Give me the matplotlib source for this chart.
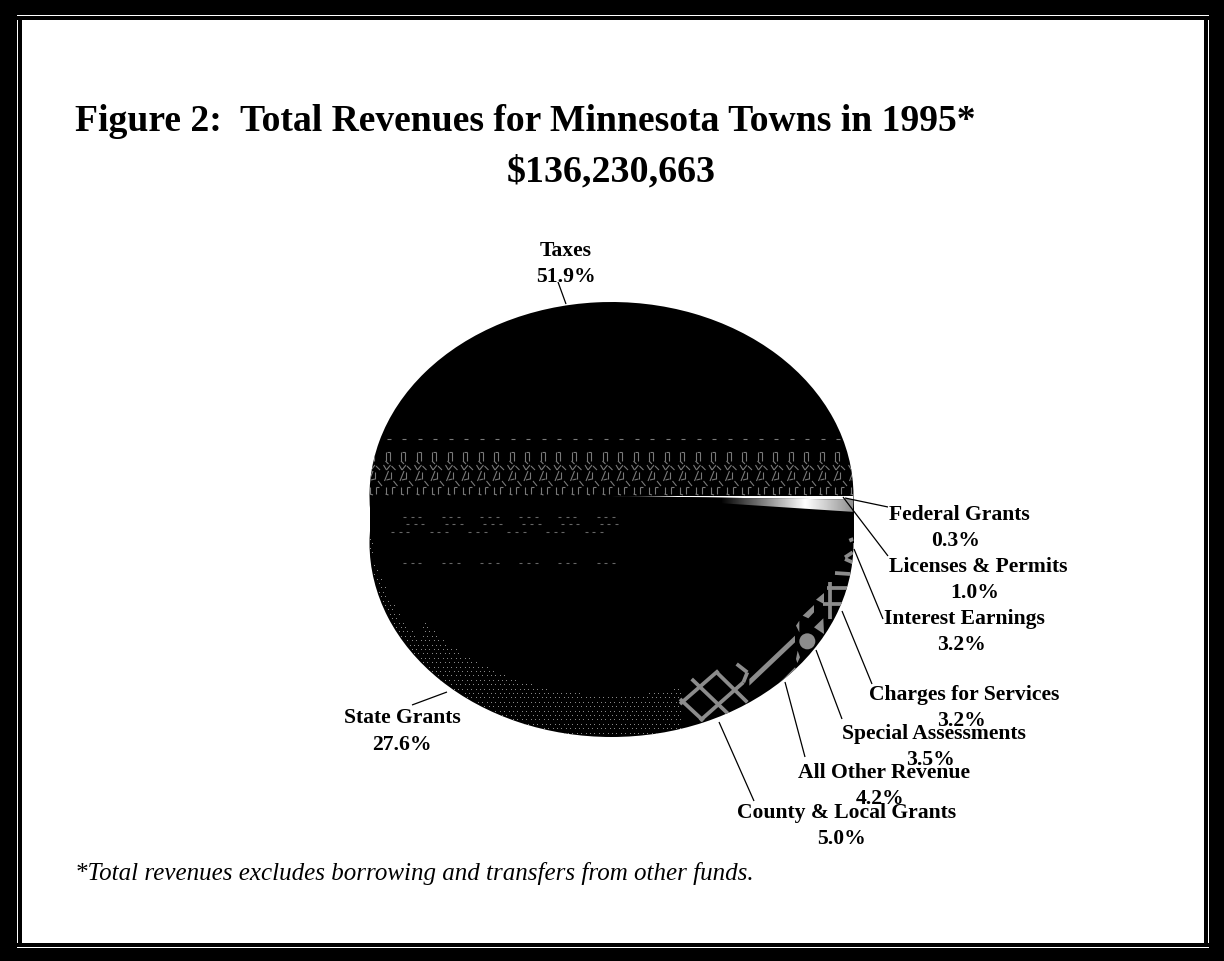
import numpy as np
import matplotlib
matplotlib.use("Agg")
import matplotlib.pyplot as plt
from matplotlib.patches import Rectangle, Circle, Polygon
from matplotlib.collections import LineCollection

plt.rcParams['font.family'] = ['Liberation Serif', 'DejaVu Serif']

W, H = 1224, 962

categories = ["Taxes", "State Grants", "County & Local Grants", "All Other Revenue",
              "Special Assessments", "Charges for Services", "Interest Earnings",
              "Licenses & Permits", "Federal Grants"]
shares = [51.9, 27.6, 5.0, 4.2, 3.5, 3.2, 3.2, 1.0, 0.3]
wedge_colors = ["black", "black", "black", "black", "black", "black", "black", "black", "white"]

title_lines = ["Figure 2:  Total Revenues for Minnesota Towns in 1995*", "$136,230,663"]
footnote = "*Total revenues excludes borrowing and transfers from other funds."

# label baselines and centres, in page pixels: (name x, name y, percent x, percent y)
label_xy = {
    "Taxes": (566, 256, 566, 282),
    "State Grants": (402, 723, 402, 750),
    "County & Local Grants": (847, 818, 842, 844),
    "All Other Revenue": (884, 778, 880, 804),
    "Special Assessments": (934, 739, 930, 765),
    "Charges for Services": (964, 700, 961, 726),
    "Interest Earnings": (964, 624, 961, 650),
    "Licenses & Permits": (978, 572, 975, 598),
    "Federal Grants": (959, 520, 956, 546),
}
leaders = {
    "Taxes": ((558, 283), (566, 305)), "State Grants": ((447, 693), (412, 706)),
    "County & Local Grants": ((719, 723), (754, 802)),
    "All Other Revenue": ((785, 683), (805, 758)),
    "Special Assessments": ((816, 651), (842, 720)),
    "Charges for Services": ((842, 612), (872, 685)),
    "Interest Earnings": ((854, 550), (883, 620)),
    "Licenses & Permits": ((843, 498), (888, 557)),
    "Federal Grants": ((845, 499), (888, 508)),
}

fig = plt.figure(figsize=(W / 100, H / 100), dpi=100, facecolor="white")

# pie body: the upper face is an ellipse, extruded downward by DEPTH pixels
CX, CY, RX, RY, DEPTH = 611.5, 497, 242, 194, 47
pie_ax = fig.add_axes([(CX - RX) / W, 1 - (CY + RY + DEPTH) / H, 2 * RX / W, (2 * RY + DEPTH) / H], zorder=1)
pie_ax.patch.set_alpha(0)
d = DEPTH / RY
pie_ax.pie([1], colors=["black"], radius=1, center=(0, -d), startangle=0)
pie_ax.add_patch(Rectangle((-1, -d), 2, d, fc="black", ec="none"))
top_wedges, _ = pie_ax.pie(shares, colors=wedge_colors, radius=1, center=(0, 0), startangle=0,
                           wedgeprops=dict(linewidth=0))
# the licenses wedge fades from black at the hub to white, then grey at the rim
ramp = np.interp(np.linspace(0, 1, 256), [0, 0.45, 0.8, 1.0], [0.0, 0.0, 1.0, 0.55])[None, :]
shade = pie_ax.imshow(ramp, cmap="gray", vmin=0, vmax=1, extent=(0, 1, -0.1, 0.02),
                      aspect="auto", zorder=3)
shade.set_clip_path(top_wedges[categories.index("Licenses & Permits")])
pie_ax.set_xlim(-1, 1)
pie_ax.set_ylim(-1 - d, 1)
pie_ax.set_aspect("auto")
pie_ax.axis("off")

# page layer, in pixel coordinates, with the frame and everything drawn over the pie
page = fig.add_axes([0, 0, 1, 1], zorder=2)
page.set_xlim(0, W)
page.set_ylim(H, 0)
page.axis("off")
page.patch.set_alpha(0)

# double-rule frame: four black bars with a thin white rule inside them
for x, y, w, h in ((0, 0, W, 16), (0, 949, W, 13), (0, 0, 17, H), (1209, 0, 15, H),
                   (17, 17, 1192, 4), (17, 944, 1192, 4), (18, 17, 4, 931), (1204, 17, 4, 931)):
    page.add_patch(Rectangle((x, y), w, h, fc="black", ec="none", zorder=1))

# outline of the solid, used to clip the fill textures
t = np.linspace(0, np.pi, 200)
upper = np.c_[CX + RX * np.cos(t), CY - RY * np.sin(t)]
lower = np.c_[CX - RX * np.cos(t), CY + DEPTH + RY * np.sin(t)]
outline = Polygon(np.r_[upper, lower], closed=True, transform=page.transData, fc="none", ec="none")
page.add_patch(outline)

GREY = "#8c8c8c"

def clipped(artist):
    artist.set_zorder(5)
    artist.set_clip_path(outline)
    return artist

# woven fill band across the upper wedge
PERIOD = 15.5
tile = [
    [(2, 453), (2, 462)], [(2, 462), (5, 465)], [(6, 453), (6, 462)], [(3, 453), (6, 453)],
    [(0, 466), (3, 471)], [(3, 471), (7, 466)], [(8, 467), (12, 471)],
    [(5, 472), (1, 482)], [(7, 473), (7, 480)], [(3, 481), (7, 480)], [(10, 482), (14, 487)],
    [(2, 488), (2, 495)], [(2, 495), (5, 496)], [(8, 488), (8, 495)], [(8, 488), (11, 488)],
]
segs = []
for k in range(-1, 33):
    ox = 368 + k * PERIOD
    for (a, b) in tile:
        segs.append([(ox + a[0], a[1]), (ox + b[0], b[1])])
    segs.append([(ox + 3, 440), (ox + 7, 440)])
page.add_collection(clipped(LineCollection(segs, colors="#7a7a7a", linewidths=0.8)))

# broken dashes across the lower wedge
dash = []
for k in range(0, 6):
    ox = 403 + k * 38.7
    for y, off in ((518, 0), (525, 3), (533, -12), (564, 0)):
        for j in range(3):
            dash.append([(ox + off + j * 7.7, y), (ox + off + j * 7.7 + 3, y)])
page.add_collection(clipped(LineCollection(dash, colors="#666666", linewidths=0.8)))

# stipple along the rim of the lower wedge
px, py = [], []
for x in np.arange(370, 680, 4.4):
    for y in np.arange(540, 740, 4.4):
        u = (x - CX) / RX
        rim = CY + DEPTH + RY * np.sqrt(max(1 - u * u, 0))
        if rim - y < 42 - 22 * (x < 420) and y < rim:
            px.append(x + (y % 8.8 > 4.4) * 2.2)
            py.append(y)
page.add_artist(clipped(page.scatter(px, py, s=0.45, c="#8a8a8a", linewidths=0)))

# lattice and motif fills of the small wedges, gathered near the rim
def z(x, y):
    return (660 + x / 3, 470 + y / 3)

lattice = [
    ((60, 705), (175, 605)), ((120, 755), (250, 640)), ((95, 630), (205, 735)),
    ((170, 610), (262, 700)), ((60, 690), (130, 755)), ((250, 640), (262, 610)),
    ((262, 610), (230, 585)), ((510, 340), (510, 450)), ((500, 358), (562, 358)),
    ((490, 405), (545, 405)), ((525, 312), (570, 315)), ((555, 265), (578, 250)),
    ((555, 270), (578, 280)), ((568, 215), (580, 210)),
]
page.add_collection(clipped(LineCollection([[z(*a), z(*b)] for a, b in lattice],
                                           colors=GREY, linewidths=2.7)))
page.add_patch(clipped(Polygon([z(268, 650), z(268, 630), z(405, 500), z(405, 520)], fc=GREY, ec="none")))
page.add_patch(clipped(Circle(z(442, 517), 8, fc=GREY, ec="none")))
page.add_patch(clipped(Polygon([z(428, 440), z(462, 408), z(462, 430), z(445, 448)], fc=GREY, ec="none")))
page.add_patch(clipped(Polygon([z(462, 475), z(490, 448), z(492, 495)], fc=GREY, ec="none")))
page.add_patch(clipped(Polygon([z(468, 392), z(492, 372), z(492, 405)], fc=GREY, ec="none")))
page.add_patch(clipped(Polygon([z(408, 470), z(418, 455), z(418, 490)], fc=GREY, ec="none")))
page.add_patch(clipped(Polygon([z(408, 570), z(413, 545), z(420, 565), z(412, 582)], fc=GREY, ec="none")))
page.add_patch(clipped(Polygon([z(350, 650), z(405, 595), z(408, 600), z(360, 650)], fc=GREY, ec="none")))

# leader lines and two-line bold labels
for name, share in zip(categories, shares):
    (x0, y0), (x1, y1) = leaders[name]
    page.plot([x0, x1], [y0, y1], color="black", lw=0.9, zorder=6, solid_capstyle="butt")
    nx, ny, qx, qy = label_xy[name]
    page.text(nx, ny, name, ha="center", va="baseline", fontsize=15.6, fontweight="bold", zorder=7)
    page.text(qx, qy, f"{share:.1f}%", ha="center", va="baseline", fontsize=15.6, fontweight="bold", zorder=7)

page.text(75, 131, title_lines[0], ha="left", va="baseline", fontsize=27.1, fontweight="bold", zorder=7)
page.text(611, 181, title_lines[1], ha="center", va="baseline", fontsize=27.4, fontweight="bold", zorder=7)
page.text(75, 880, footnote, ha="left", va="baseline", fontsize=18, fontstyle="italic", zorder=7)

fig.savefig("out.png", dpi=100, facecolor="white")
